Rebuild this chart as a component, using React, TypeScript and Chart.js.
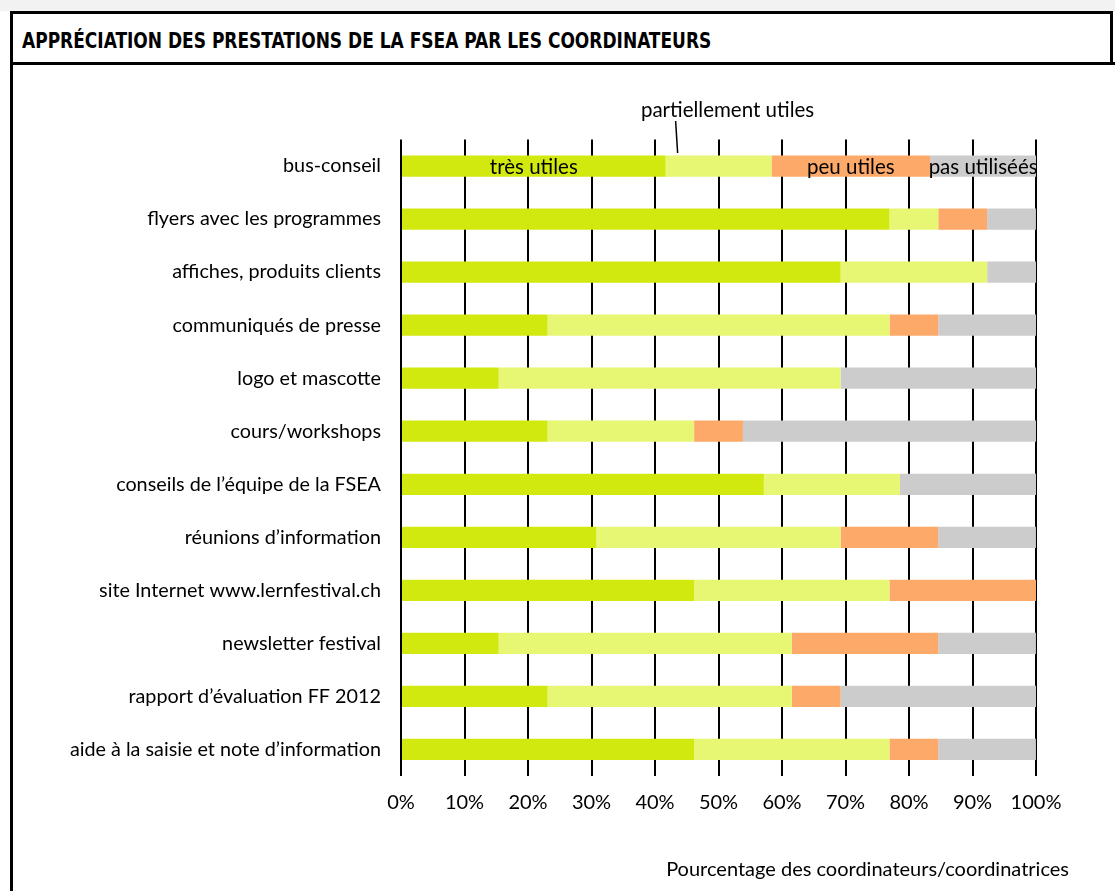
import React, { useEffect, useRef } from "react";
import { Chart, registerables } from "chart.js";

Chart.register(...registerables);

const title = "APPRÉCIATION DES PRESTATIONS DE LA FSEA PAR LES COORDINATEURS";
const xAxisTitle = "Pourcentage des coordinateurs/coordinatrices";

const categories = [
  "bus-conseil",
  "flyers avec les programmes",
  "affiches, produits clients",
  "communiqués de presse",
  "logo et mascotte",
  "cours/workshops",
  "conseils de l’équipe de la FSEA",
  "réunions d’information",
  "site Internet www.lernfestival.ch",
  "newsletter festival",
  "rapport d’évaluation FF 2012",
  "aide à la saisie et note d’information",
];

const seriesNames = ["très utiles", "partiellement utiles", "peu utiles", "pas utiliséés"];

const tresUtiles = [41.67, 76.92, 69.23, 23.08, 15.38, 23.08, 57.14, 30.77, 46.15, 15.38, 23.08, 46.15];
const partiellementUtiles = [16.67, 7.69, 23.08, 53.85, 53.85, 23.08, 21.43, 38.46, 30.77, 46.15, 38.46, 30.77];
const peuUtiles = [25.0, 7.69, 0, 7.69, 0, 7.69, 0, 15.38, 23.08, 23.08, 7.69, 7.69];
const pasUtilisees = [16.67, 7.69, 7.69, 15.38, 30.77, 46.15, 21.43, 15.38, 0, 15.38, 30.77, 15.38];

const xTicks = [0, 10, 20, 30, 40, 50, 60, 70, 80, 90, 100];

const colors = ["#d2e910", "#e7f673", "#fda96a", "#cccccc"];

const FONT = "Lato, 'Noto Sans', sans-serif";

const segmentLabelPlugin = {
  id: "segmentLabels",
  afterDatasetsDraw(chart: any) {
    const ctx = chart.ctx;
    ctx.save();
    ctx.font = `20.5px ${FONT}`;
    ctx.fillStyle = "#000";
    ctx.textBaseline = "middle";
    ctx.textAlign = "center";
    chart.data.datasets.forEach((ds: any, i: number) => {
      const meta = chart.getDatasetMeta(i);
      const el = meta.data[0];
      if (!el) return;
      const p = el.getProps(["x", "base", "y", "height"], true);
      const left = Math.min(p.x, p.base);
      const right = Math.max(p.x, p.base);
      const cx = (left + right) / 2;
      if (i === 1) {
        ctx.fillText(ds.label, cx + 9, p.y - 56);
        ctx.beginPath();
        ctx.strokeStyle = "#000";
        ctx.lineWidth = 1.5;
        ctx.moveTo(left + 10, p.y - 45);
        ctx.lineTo(left + 12, p.y - 13);
        ctx.stroke();
      } else {
        ctx.fillText(ds.label, cx, p.y + 1);
      }
    });
    ctx.restore();
  },
};

function BarChart() {
  const ref = useRef<HTMLCanvasElement | null>(null);
  useEffect(() => {
    if (!ref.current) return;
    const seriesData = [tresUtiles, partiellementUtiles, peuUtiles, pasUtilisees];
    const chart = new Chart(ref.current, {
      type: "bar",
      data: {
        labels: categories,
        datasets: seriesData.map((d, i) => ({
          label: seriesNames[i],
          data: d,
          backgroundColor: colors[i],
          borderWidth: 0,
          categoryPercentage: 1,
          barPercentage: 0.4,
        })),
      },
      options: {
        indexAxis: "y",
        responsive: false,
        animation: false,
        layout: { padding: { top: 139.5, bottom: 75, left: 0, right: 79 } },
        plugins: {
          legend: { display: false },
          tooltip: { enabled: false },
        },
        scales: {
          x: {
            stacked: true,
            min: 0,
            max: 100,
            afterBuildTicks: (s: any) => {
              s.ticks = xTicks.map((v) => ({ value: v }));
            },
            afterFit: (s: any) => {
              s.height = 40;
            },
            border: { display: false },
            grid: { color: "#000", lineWidth: 2, drawTicks: false },
            ticks: {
              padding: 15,
              color: "#000",
              font: { family: FONT, size: 20 },
              callback: (v: any) => `${v}%`,
              maxRotation: 0,
            },
          },
          y: {
            stacked: true,
            afterFit: (s: any) => {
              s.width = 401;
            },
            border: { display: false },
            grid: { display: false, drawTicks: false },
            ticks: {
              padding: 20,
              color: "#000",
              autoSkip: false,
              font: { family: FONT, size: 19.8 },
            },
          },
        },
      },
      plugins: [segmentLabelPlugin],
    } as any);
    return () => chart.destroy();
  }, []);
  return (
    <canvas
      ref={ref}
      width={1115}
      height={891}
      style={{ position: "absolute", left: 0, top: 0, width: 1115, height: 891 }}
    />
  );
}

export default function App() {
  return (
    <div
      style={{
        position: "absolute",
        left: 0,
        top: 0,
        width: 1115,
        height: 891,
        overflow: "hidden",
        background: "#fff",
      }}
    >
      <div style={{ position: "absolute", left: 0, top: 0, width: 1115, height: 11, background: "#f2f2f2" }} />
      <div
        style={{
          position: "absolute",
          left: 10,
          top: 11,
          width: 1103,
          height: 54,
          boxSizing: "border-box",
          border: "3px solid #000",
          borderBottom: "none",
        }}
      />
      <div
        style={{
          position: "absolute",
          left: 10,
          top: 62,
          width: 1105,
          height: 840,
          boxSizing: "border-box",
          borderLeft: "3px solid #000",
          borderTop: "3px solid #000",
        }}
      />
      <div
        style={{
          position: "absolute",
          left: 22,
          top: 28,
          fontFamily: "'DejaVu Sans Condensed', sans-serif",
          fontWeight: "bold",
          fontSize: 22,
          color: "#000",
          whiteSpace: "nowrap",
          lineHeight: "26px",
          transform: "scaleX(0.86)",
          transformOrigin: "left center",
        }}
      >
        {title}
      </div>
      <BarChart />
      <div
        style={{
          position: "absolute",
          left: 0,
          top: 855,
          width: 1069,
          textAlign: "right",
          fontFamily: FONT,
          fontSize: 20,
          color: "#000",
          lineHeight: "26px",
          whiteSpace: "nowrap",
        }}
      >
        {xAxisTitle}
      </div>
    </div>
  );
}
